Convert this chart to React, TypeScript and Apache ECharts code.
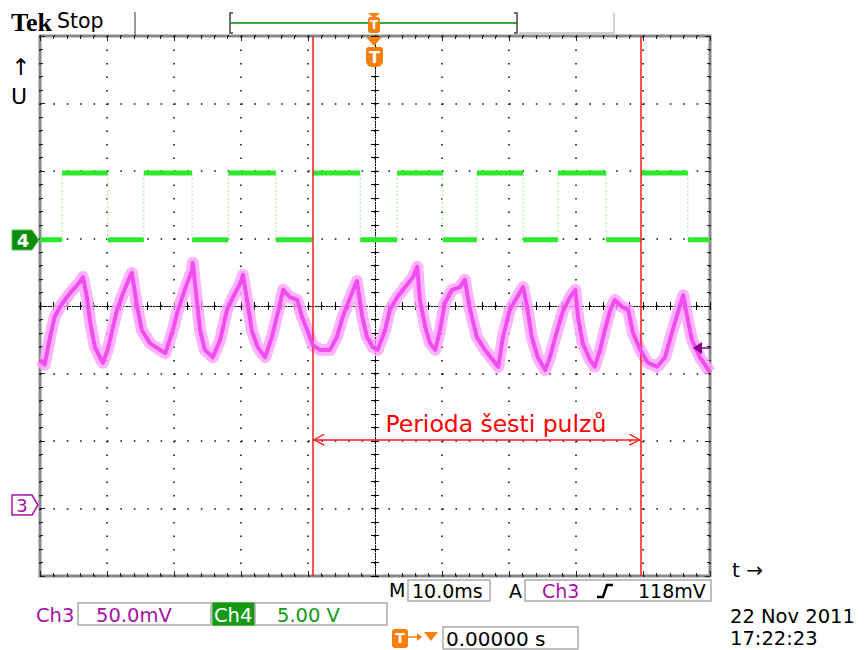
import React, { useEffect, useRef } from "react";
import * as echarts from "echarts";

// Screen divisions: time -5..5 (10 ms/div), vertical -4..4
const xMin = -5;
const xMax = 5;
const yMin = -4;
const yMax = 4;

// Ch3 (magenta) trace, in divisions
const ch3Time = [
  -5.0, -4.93, -4.85, -4.78, -4.7, -4.6, -4.51, -4.4, -4.36, -4.3, -4.25, -4.18, -4.1, -4.06, -3.99,
  -3.91, -3.85, -3.76, -3.66, -3.63, -3.55, -3.48, -3.36, -3.21, -3.13, -3.03, -2.94, -2.84, -2.73,
  -2.72, -2.66, -2.61, -2.54, -2.42, -2.31, -2.21, -2.12, -2.01, -1.97, -1.91, -1.84, -1.75, -1.64,
  -1.54, -1.45, -1.37, -1.27, -1.16, -1.09, -1.01, -0.93, -0.82, -0.67, -0.57, -0.48, -0.37, -0.27,
  -0.19, -0.12, -0.03, 0.04, 0.15, 0.22, 0.33, 0.45, 0.57, 0.63, 0.67, 0.75, 0.82, 0.9, 0.97, 1.04,
  1.15, 1.27, 1.34, 1.42, 1.52, 1.64, 1.76, 1.84, 1.91, 2.01, 2.12, 2.21, 2.27, 2.34, 2.43, 2.54,
  2.61, 2.72, 2.81, 2.91, 2.99, 3.03, 3.1, 3.21, 3.28, 3.36, 3.43, 3.51, 3.58, 3.69, 3.78, 3.85,
  3.96, 4.07, 4.21, 4.33, 4.43, 4.52, 4.6, 4.66, 4.73, 4.85, 5.0,
];
const ch3Level = [
  -0.8, -0.87, -0.46, -0.16, -0.01, 0.13, 0.24, 0.36, 0.43, 0.13, -0.25, -0.61, -0.77, -0.84, -0.65,
  -0.31, -0.06, 0.19, 0.43, 0.49, -0.01, -0.36, -0.55, -0.65, -0.7, -0.4, -0.06, 0.24, 0.53,
  0.64, 0.09, -0.36, -0.65, -0.76, -0.5, -0.06, 0.13, 0.34, 0.46, 0.09, -0.36, -0.61, -0.76,
  -0.46, -0.1, 0.24, 0.13, 0.09, -0.16, -0.36, -0.58, -0.65, -0.65, -0.46, -0.16, 0.13, 0.37,
  -0.16, -0.46, -0.61, -0.65, -0.36, -0.06, 0.13, 0.28, 0.43, 0.58, 0.09, -0.31, -0.55, -0.65, -0.36, 0.04,
  0.24, 0.28, 0.39, -0.06, -0.46, -0.65, -0.8, -0.9, -0.46, -0.06, 0.13, 0.28, -0.01, -0.46, -0.76, -0.95,
  -0.76, -0.36, -0.06, 0.13, 0.24, -0.16, -0.55, -0.8, -0.9, -0.65, -0.36, -0.06, 0.09, -0.01, -0.06, -0.4,
  -0.65, -0.84, -0.9, -0.76, -0.4, -0.1, 0.16, -0.16, -0.5, -0.76, -0.98,
];

// Ch4 (green) square wave: switching instants (divisions), levels
const ch4Edges = [
  -4.67, -3.99, -3.45, -2.73, -2.19, -1.48, -0.93, -0.22, 0.33, 1.01, 1.52, 2.21, 2.73, 3.45, 3.97,
  4.67,
];
const ch4Low = 0.98;
const ch4High = 1.97;

// Cursors and annotation
const cursorX = [-0.93, 3.97];
const periodY = -1.98;
const periodLabel = "Perioda šesti pulzů";

const ch3Data = ch3Time.map((t, i) => [t, ch3Level[i]]);
const bounds = [xMin, ...ch4Edges, xMax];
const ch4Flat: any[] = [];
for (let i = 0; i < bounds.length - 1; i++) {
  const v = i % 2 === 0 ? ch4Low : ch4High;
  ch4Flat.push([bounds[i], v], [bounds[i + 1], v], [bounds[i + 1], "-"]);
}
const ch4Vert: any[] = [];
ch4Edges.forEach((t) => ch4Vert.push([t, ch4Low], [t, ch4High], [t, "-"]));

const FONT = '"DejaVu Sans", Verdana, sans-serif';
const ORANGE = "#f7800a";
const PURPLE = "#a810a8";
const GREEN = "#169a16";

const chevron =
  "path://M6,0L6.3,0.3L5.7,0.3Z M6,12 L12,23 L10.8,24 L6,14.5 L1.2,24 L0,23 Z";

const borderTick = { show: true, inside: true, length: 5, lineStyle: { color: "#222", width: 1 } };
const borderMinor = { show: true, splitNumber: 5, length: 3, lineStyle: { color: "#222", width: 1 } };
const centerLine = {
  show: true,
  onZero: true,
  onZeroAxisIndex: 0,
  lineStyle: { color: "#000", width: 1, type: [1, 1.7] },
};
const centerTick = { show: true, inside: true, length: 4, lineStyle: { color: "#000", width: 1 } };
const centerMinor = { show: true, splitNumber: 5, length: 4, lineStyle: { color: "#000", width: 1 } };

function xAx(position: string, onZero: boolean, split: boolean) {
  return {
    type: "value",
    min: xMin,
    max: xMax,
    interval: 1,
    position,
    axisLine: onZero ? centerLine : { show: false, onZero: false },
    axisTick: onZero ? centerTick : borderTick,
    minorTick: onZero ? centerMinor : borderMinor,
    axisLabel: { show: false },
    splitLine: split
      ? { show: true, lineStyle: { color: "#111", width: 1.6, type: [1.6, 11.9] } }
      : { show: false },
  };
}
function yAx(position: string, onZero: boolean, split: boolean) {
  return {
    type: "value",
    min: yMin,
    max: yMax,
    interval: 1,
    position,
    axisLine: onZero ? centerLine : { show: false, onZero: false },
    axisTick: onZero ? centerTick : borderTick,
    minorTick: onZero ? centerMinor : borderMinor,
    axisLabel: { show: false },
    splitLine: split
      ? { show: true, lineStyle: { color: "#111", width: 1.6, type: [1.6, 11.8] } }
      : { show: false },
  };
}

function txt(x: number, y: number, text: string, fill: string, size: number, extra: any = {}) {
  const style: any = {
    text,
    fill,
    font: `${extra.weight || "normal"} ${size}px ${extra.family || FONT}`,
    align: extra.align || "left",
    verticalAlign: "middle",
  };
  if (extra.lineHeight) style.lineHeight = extra.lineHeight;
  return { type: "text", x, y, z: 100, silent: true, style };
}
function box(x: number, y: number, w: number, h: number, stroke = "#aaa", fill = "none") {
  return {
    type: "rect",
    z: 99,
    silent: true,
    shape: { x, y, width: w, height: h },
    style: { fill, stroke, lineWidth: 1.5 },
  };
}
function poly(points: number[][], fill: string, stroke?: string, lw = 1) {
  return {
    type: "polygon",
    z: 100,
    silent: true,
    shape: { points },
    style: { fill, stroke: stroke || null, lineWidth: lw },
  };
}
function pline(points: number[][], stroke: string, lw: number) {
  return {
    type: "polyline",
    z: 100,
    silent: true,
    shape: { points },
    style: { fill: null, stroke, lineWidth: lw },
  };
}

const graphics: any[] = [
  // header
  txt(11, 22, "Tek", "#000", 26, { weight: "bold", family: '"Liberation Serif", serif' }),
  txt(57, 21, "Stop", "#000", 20.5),
  pline([[135, 12], [135, 35]], "#777", 1.5),
  pline([[233, 13], [230, 13], [230, 33], [233, 33]], "#444", 1.5),
  pline([[231, 23], [517, 23]], "#3aaa3a", 2),
  pline([[514, 13], [517, 13], [517, 33], [514, 33]], "#444", 1.5),
  pline([[519, 33], [614, 33], [614, 13]], "#cfcfcf", 2),
  poly([[368, 13], [380, 13], [374, 18]], ORANGE),
  { type: "rect", z: 100, silent: true, shape: { x: 368, y: 17, width: 12, height: 16, r: 3 }, style: { fill: ORANGE } },
  txt(374, 25, "T", "#fff", 12, { weight: "bold", align: "center" }),
  poly([[366, 37], [382, 37], [374, 46]], ORANGE),
  { type: "rect", z: 100, silent: true, shape: { x: 366, y: 47, width: 17, height: 20, r: [3, 3, 6, 6] }, style: { fill: ORANGE } },
  txt(374.5, 57, "T", "#fff", 16, { weight: "bold", align: "center" }),
  // left
  txt(11, 67, "↑", "#000", 23),
  txt(11, 96, "U", "#000", 22),
  poly([[12, 230], [32, 230], [39, 240], [32, 250], [12, 250]], "#0b8c0b", "#5c5", 1),
  txt(23, 240, "4", "#fff", 18, { weight: "bold", align: "center" }),
  poly([[12, 495], [32, 495], [38, 505], [32, 515], [12, 515]], "#fff", PURPLE, 1.5),
  txt(22, 505, "3", PURPLE, 18, { align: "center" }),
  // right
  poly([[693, 348], [702, 342], [702, 354]], "#8b008b"),
  pline([[702, 348], [710, 348]], "#8b008b", 1.5),
  txt(732, 570, "t →", "#000", 20),
  // status line 1
  txt(389, 590, "M", "#000", 19),
  box(408, 580, 82, 21),
  txt(412, 591, "10.0ms", "#000", 19),
  txt(509, 591, "A", "#000", 19),
  box(525, 580, 186, 21),
  txt(542, 591, "Ch3", PURPLE, 19),
  pline([[597, 597], [603, 597], [607, 585], [613, 585]], "#000", 2.5),
  txt(638, 591, "118mV", "#000", 19),
  // status line 2
  txt(36, 615, "Ch3", PURPLE, 19.5),
  box(78, 603, 133, 22),
  txt(96, 615, "50.0mV", PURPLE, 19.5),
  box(213, 603, 41, 22, "#169a16", GREEN),
  txt(214, 615, "Ch4", "#fff", 19.5),
  box(255, 603, 132, 22),
  txt(277, 615, "5.00 V", GREEN, 19.5),
  // status line 3
  { type: "rect", z: 100, silent: true, shape: { x: 392, y: 629, width: 16, height: 19, r: 3 }, style: { fill: ORANGE } },
  txt(400, 638, "T", "#fff", 14, { weight: "bold", align: "center" }),
  pline([[408, 637], [420, 637]], ORANGE, 1.5),
  poly([[417, 633], [422, 637], [417, 641]], ORANGE),
  poly([[424, 632], [438, 632], [431, 641]], ORANGE),
  box(443, 627, 135, 22),
  txt(446, 639, "0.00000 s", "#000", 20, { lineHeight: 20 }),
  txt(730, 616.5, "22 Nov 2011", "#000", 19.5, { lineHeight: 18 }),
  txt(730, 638.8, "17:22:23", "#000", 19.5, { lineHeight: 18 }),
];

const option: any = {
  animation: false,
  backgroundColor: "#fff",
  textStyle: { fontFamily: FONT },
  grid: {
    left: 40,
    top: 36,
    width: 670,
    height: 540,
    show: true,
    borderColor: "#8a8a8a",
    borderWidth: 3,
    backgroundColor: "transparent",
    containLabel: false,
    outerBoundsMode: "none",
  },
  xAxis: [xAx("bottom", false, true), xAx("top", false, false), xAx("bottom", true, false), xAx("top", true, false)],
  yAxis: [yAx("left", false, true), yAx("right", false, false), yAx("left", true, false), yAx("right", true, false)],
  graphic: { elements: graphics },
  series: [
    {
      name: "Ch4 edges",
      type: "line",
      xAxisIndex: 0,
      yAxisIndex: 0,
      data: ch4Vert,
      symbol: "none",
      silent: true,
      z: 3,
      lineStyle: { color: "#a3eba3", width: 1, type: [2, 2] },
    },
    {
      name: "Ch4",
      type: "line",
      xAxisIndex: 0,
      yAxisIndex: 0,
      data: ch4Flat,
      symbol: "none",
      silent: true,
      z: 4,
      lineStyle: { color: "#2ee82e", width: 5 },
    },
    {
      name: "Ch3 halo",
      type: "line",
      xAxisIndex: 0,
      yAxisIndex: 0,
      data: ch3Data,
      symbol: "none",
      silent: true,
      z: 4,
      lineStyle: { color: "#ffa0ff", width: 12, opacity: 0.8, join: "round" },
    },
    {
      name: "Ch3",
      type: "line",
      xAxisIndex: 0,
      yAxisIndex: 0,
      data: ch3Data,
      symbol: "none",
      silent: true,
      z: 5,
      lineStyle: { color: "#f04cf0", width: 4, join: "round" },
      markLine: {
        silent: true,
        animation: false,
        symbol: "none",
        lineStyle: { color: "#ff1a1a", width: 1.5, type: "solid" },
        label: { show: false },
        emphasis: { disabled: true },
        data: [
          [{ coord: [cursorX[0], yMin] }, { coord: [cursorX[0], yMax] }],
          [{ coord: [cursorX[1], yMin] }, { coord: [cursorX[1], yMax] }],
          [
            {
              coord: [cursorX[0], periodY],
              symbol: chevron,
              symbolSize: [12, 24],
              label: {
                show: true,
                position: "middle",
                formatter: periodLabel,
                color: "#ff0000",
                fontSize: 23.5,
                fontFamily: FONT,
                distance: 4,
                offset: [19, 0],
              },
            },
            { coord: [cursorX[1], periodY], symbol: chevron, symbolSize: [12, 24] },
          ],
        ],
      },
    },
  ],
};

export default function App() {
  const ref = useRef<HTMLDivElement>(null);
  useEffect(() => {
    document.body.style.margin = "0";
    const chart = echarts.init(ref.current!, null, { renderer: "svg" });
    chart.setOption(option);
    return () => chart.dispose();
  }, []);
  return (
    <div
      ref={ref}
      style={{ position: "absolute", left: 0, top: 0, width: 865, height: 650, background: "#fff" }}
    />
  );
}
